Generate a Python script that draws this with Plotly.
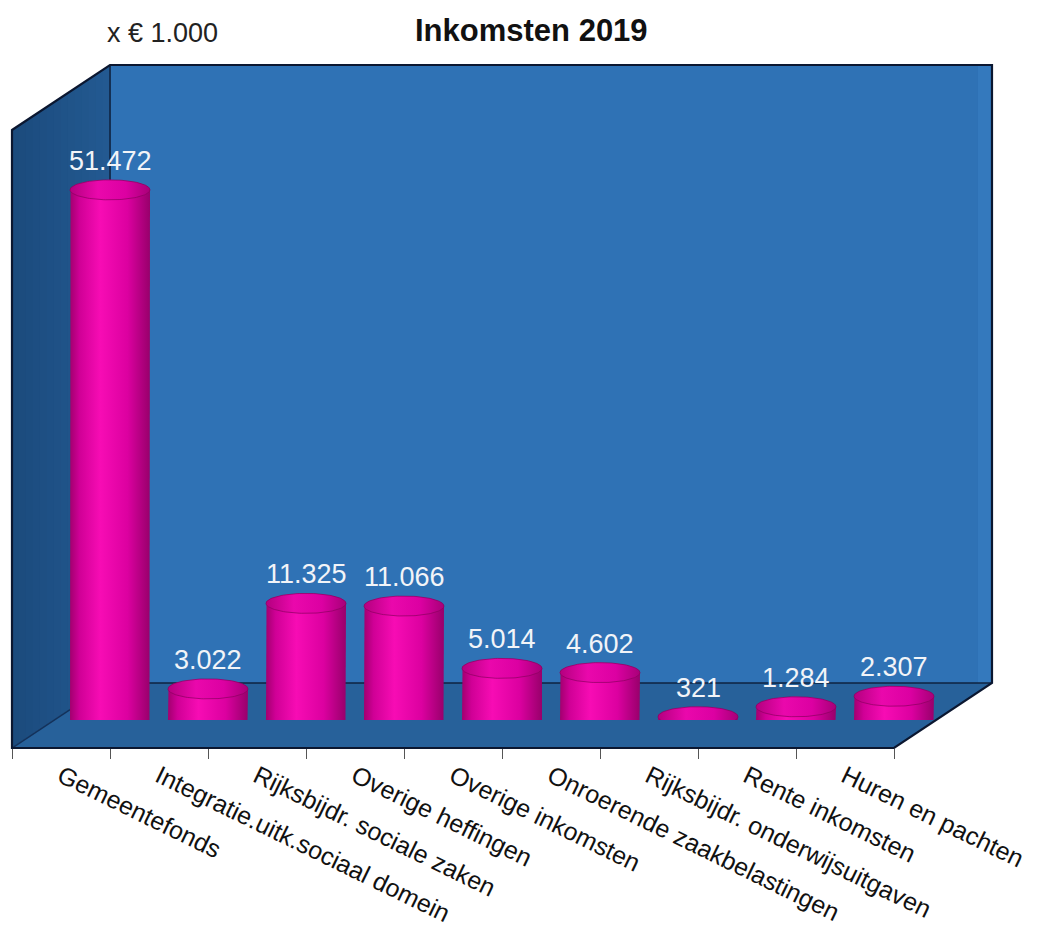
import numpy as np
import plotly.graph_objects as go

# Inkomsten 2019, bedragen x € 1.000
categories = [
    "Gemeentefonds",
    "Integratie.uitk.sociaal domein",
    "Rijksbijdr. sociale zaken",
    "Overige heffingen",
    "Overige inkomsten",
    "Onroerende zaakbelastingen",
    "Rijksbijdr. onderwijsuitgaven",
    "Rente inkomsten",
    "Huren en pachten",
]
values = [51472, 3022, 11325, 11066, 5014, 4602, 321, 1284, 2307]

title_text = "Inkomsten 2019"
unit_text = "x € 1.000"
y_max = 60000

W, H = 1044, 931
FONT = "Liberation Sans, Arial, sans-serif"


def px(x):
    return x / W


def py(y):
    return 1 - y / H


# corners of the 3D box (page pixels)
BOX_L, BOX_R_FRONT = 12, 894          # front edge of the floor
DEPTH_X, DEPTH_Y = 98, 65             # depth offset of the back wall
FRONT_Y = 748
BACK_TOP = 65
BASE_Y = 720                          # floor line at the depth of the cylinders
VAL_PX = 618                          # pixel height of the value range

A = (BOX_L, BACK_TOP + DEPTH_Y)
B = (BOX_L + DEPTH_X, BACK_TOP)
C = (BOX_R_FRONT + DEPTH_X, BACK_TOP)
D = (BOX_R_FRONT + DEPTH_X, FRONT_Y - DEPTH_Y)
E = (BOX_R_FRONT, FRONT_Y)
F = (BOX_L, FRONT_Y)
G = (BOX_L + DEPTH_X, FRONT_Y - DEPTH_Y)


def path(points, close=True):
    s = "M " + " L ".join(f"{px(x):.5f} {py(y):.5f}" for x, y in points)
    return s + (" Z" if close else "")


def lerp(p, q, t):
    return (p[0] + (q[0] - p[0]) * t, p[1] + (q[1] - p[1]) * t)


def mix(c0, c1, t):
    a = [int(c0[k:k + 2], 16) for k in (1, 3, 5)]
    b = [int(c1[k:k + 2], 16) for k in (1, 3, 5)]
    return "#" + "".join(f"{round(x + (y - x) * t):02x}" for x, y in zip(a, b))


n = len(categories)
slot_px = (BOX_R_FRONT - BOX_L) / n
bar_left = BOX_L + DEPTH_X / 2
bar_right = bar_left + slot_px * n

cyl_rx = 40 / slot_px                 # half width in category units
cyl_ry = 10 * y_max / VAL_PX          # ellipse half height in value units

body_scale = [
    [0.0, "#a2006f"], [0.12, "#d00096"], [0.38, "#f70cb4"],
    [0.72, "#dc00a0"], [1.0, "#98006b"],
]
cap_scale = [
    [0.0, "#b4007f"], [0.35, "#ea08ac"], [0.7, "#dc00a2"], [1.0, "#a80078"],
]

fig = go.Figure()

t_top = np.linspace(np.pi, 0, 60)
t_bot = np.linspace(0, -np.pi, 60)
t_full = np.linspace(0, 2 * np.pi, 120)

for i, v in enumerate(values):
    xs = np.concatenate([
        [i - cyl_rx],
        i + cyl_rx * np.cos(t_top),
        i + cyl_rx * np.cos(t_bot),
    ])
    ys = np.concatenate([
        [0],
        v + cyl_ry * np.sin(t_top),
        0 + cyl_ry * np.sin(t_bot),
    ])
    fig.add_trace(go.Scatter(
        x=xs, y=ys, mode="lines", fill="toself",
        line=dict(width=0), fillcolor="#e000a0",
        fillgradient=dict(type="horizontal", colorscale=body_scale),
        hoverinfo="skip", showlegend=False,
    ))
    fig.add_trace(go.Scatter(
        x=i + cyl_rx * np.cos(t_full), y=v + cyl_ry * np.sin(t_full),
        mode="lines", fill="toself",
        line=dict(width=1, color="rgba(140,0,95,0.7)"), fillcolor="#e000a0",
        fillgradient=dict(type="horizontal", colorscale=cap_scale),
        hoverinfo="skip", showlegend=False,
    ))
    fig.add_annotation(
        x=i, y=v, xref="x", yref="y", yshift=29,
        text=f"{v:,}".replace(",", "."), showarrow=False,
        font=dict(family=FONT, size=27, color="#f2f4f8"),
        yanchor="middle", xanchor="center",
    )

# carrier for the category labels along the front edge
fig.add_trace(go.Scatter(
    x=categories, y=[0] * n, xaxis="x2", yaxis="y", mode="markers",
    marker=dict(opacity=0), hoverinfo="skip", showlegend=False,
))

shapes = [
    # back wall
    dict(type="path", path=path([B, C, D, G]), fillcolor="#2f72b5",
         line=dict(width=0), xref="paper", yref="paper", layer="below"),
    # light strip on the right side of the back wall
    dict(type="path", path=path([(C[0] - 14, C[1]), C, D, (D[0] - 14, D[1])]),
         fillcolor="#3479bd", line=dict(width=0), xref="paper", yref="paper",
         layer="below"),
    # floor
    dict(type="path", path=path([F, G, D, E]), fillcolor="#27619a",
         line=dict(width=0), xref="paper", yref="paper", layer="below"),
]

# left wall, shaded in narrow strips from the front edge to the back edge
k = 14
for j in range(k):
    t0, t1 = j / k, (j + 1) / k
    tone = mix("#1b4a7c", "#235a92", (j + 0.5) / k)
    shapes.append(dict(
        type="path",
        path=path([lerp(A, B, t0), lerp(A, B, t1 + 0.01),
                   lerp(F, G, t1 + 0.01), lerp(F, G, t0)]),
        fillcolor=tone, line=dict(width=0),
        xref="paper", yref="paper", layer="below",
    ))

shapes += [
    # inner edges
    dict(type="path", path=path([B, G, D], close=False),
         line=dict(width=1.5, color="#0f2340"), xref="paper", yref="paper",
         layer="below"),
    dict(type="path", path=path([F, G], close=False),
         line=dict(width=1.5, color="#13315a"), xref="paper", yref="paper",
         layer="below"),
    # outer outline
    dict(type="path", path=path([A, B, C, D, E, F]),
         line=dict(width=2.2, color="#0b1730"), xref="paper", yref="paper",
         layer="below"),
]

fig.update_layout(
    width=W, height=H,
    margin=dict(l=0, r=0, t=0, b=0, autoexpand=False),
    paper_bgcolor="white",
    plot_bgcolor="rgba(0,0,0,0)",
    shapes=shapes,
    xaxis=dict(
        range=[-0.5, n - 0.5], domain=[px(bar_left), px(bar_right)],
        visible=False, fixedrange=True, automargin=False,
    ),
    yaxis=dict(
        range=[0, y_max], domain=[py(BASE_Y), py(BASE_Y - VAL_PX)],
        visible=False, fixedrange=True, automargin=False,
    ),
    xaxis2=dict(
        type="category", categoryorder="array", categoryarray=categories,
        range=[-0.5, n - 0.5], domain=[px(BOX_L), px(BOX_R_FRONT)],
        anchor="free", position=py(FRONT_Y), automargin=False,
        showline=True, linecolor="#0b1730", linewidth=2,
        ticks="outside", tickson="boundaries", ticklen=10,
        tickcolor="#555555", tickwidth=1.2, ticklabelstandoff=3,
        tickangle=26, tickfont=dict(family=FONT, size=25, color="#111111"),
        showgrid=False, zeroline=False, fixedrange=True,
    ),
    annotations=list(fig.layout.annotations) + [
        dict(x=px(531), y=py(30), xref="paper", yref="paper",
             text=f"<b>{title_text}</b>", showarrow=False,
             font=dict(family=FONT, size=31, color="#111111"),
             xanchor="center", yanchor="middle"),
        dict(x=px(162), y=py(33), xref="paper", yref="paper",
             text=unit_text, showarrow=False,
             font=dict(family=FONT, size=27, color="#222222"),
             xanchor="center", yanchor="middle"),
    ],
)

fig.write_html("out.html")
